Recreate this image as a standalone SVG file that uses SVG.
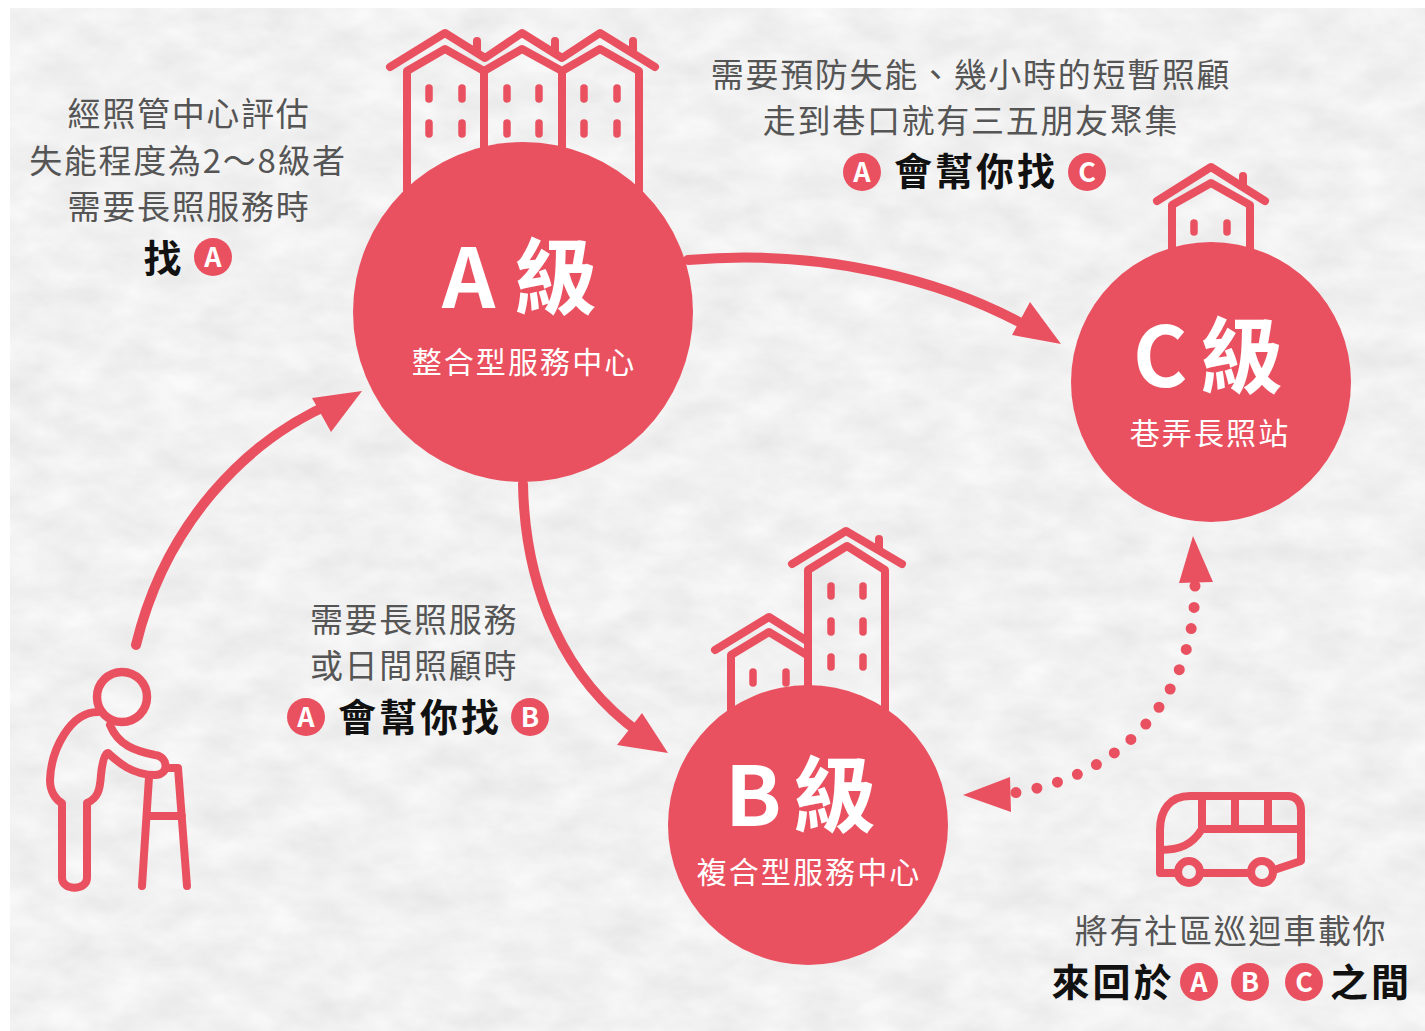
<svg xmlns="http://www.w3.org/2000/svg" width="1425" height="1031" viewBox="0 0 1425 1031">
<style>
text{font-family:"Noto Sans CJK TC","Noto Sans CJK SC",sans-serif}
.t{font-size:33px;letter-spacing:1.7px;fill:#555;text-anchor:middle}
.k{font-size:38px;letter-spacing:3px;font-weight:700;fill:#111;text-anchor:middle}
.b{font-size:27px;font-weight:700;fill:#fff;text-anchor:middle}
.h{font-size:83px;font-weight:700;fill:#fff}
.s{font-size:30px;letter-spacing:2.1px;fill:#fff;text-anchor:middle}
.r{fill:#ea5160}
.l{fill:none;stroke:#ea5160;stroke-width:8;stroke-linecap:round;stroke-linejoin:round}
.w{fill:none;stroke:#ea5160;stroke-width:7.5;stroke-linecap:round}
.a{fill:none;stroke:#ea5160;stroke-width:10;stroke-linecap:round}
</style>
<defs>
<filter id="paper" filterUnits="userSpaceOnUse" x="10" y="8" width="1415" height="1023" color-interpolation-filters="sRGB">
<feTurbulence type="fractalNoise" baseFrequency="0.02 0.035" numOctaves="4" seed="7"/>
<feColorMatrix type="matrix" values="0.09 0 0 0 0.9  0.09 0 0 0 0.9  0.09 0 0 0 0.9  0 0 0 0 1"/>
</filter>
</defs>
<rect width="1425" height="1031" fill="#fff"/>
<rect x="10" y="8" width="1415" height="1023" fill="#f1f1f1" filter="url(#paper)"/>

<g id="connectors">
<path class="a" d="M136 645C165 525 245 440 335 402"/>
<path class="r" d="M362 391L312 398L331 432Z"/>
<path class="a" d="M688 260C820 248 945 280 1030 328"/>
<path class="r" d="M1061 344L1012 335L1030 302Z"/>
<path class="a" d="M523 484C525 590 565 680 640 733"/>
<path class="r" d="M668 753L617 745L642 713Z"/>
<path d="M1195 586C1195 690 1130 775 1013 793" fill="none" stroke="#ea5160" stroke-width="11" stroke-linecap="round" stroke-dasharray="0 21.4"/>
<path class="r" d="M1193 536L1179 583L1213 582Z"/>
<path class="r" d="M963 795L1010 777L1011 812Z"/>
</g>

<g id="node-a">
<path class="l" d="M390 67L445 33L485 58L522 33L562 58L600 33L655 67"/>
<path class="l" d="M477 41V50M555 41V50M633 41V50"/>
<path class="l" d="M407 190V71L445 49L484 71L522 49L562 71L600 49L639 71V190M484 71V150M562 71V150"/>
<path class="w" d="M429 88V99M462 88V99M507 88V99M539 88V99M584 88V99M617 88V99M429 123V134M462 123V134M507 123V134M539 123V134M584 123V134M617 123V134"/>
<circle class="r" cx="523" cy="312" r="170"/>
<text class="h" x="442 514" y="308">A級</text>
<text class="s" x="524" y="373">整合型服務中心</text>
</g>

<g id="node-c">
<path class="l" d="M1157 201L1211 167L1265 201M1243 176V187"/>
<path class="l" d="M1172 255V205L1211 183L1250 205V255"/>
<path class="w" d="M1194 223V232M1227 223V232"/>
<circle class="r" cx="1211" cy="382" r="140"/>
<text class="h" x="1133 1200" y="387">C級</text>
<text class="s" x="1210" y="444">巷弄長照站</text>
</g>

<g id="node-b">
<path class="l" d="M792 564L846 531L902 564M879 539V550"/>
<path class="l" d="M808 690V570L847 546L885 570V712"/>
<path class="l" d="M715 650L769 617L807 641"/>
<path class="l" d="M731 712V655L769 632L807 655"/>
<path class="w" d="M831 586V596M863 586V596M831 621V632M863 621V632M831 657V667M863 657V667M753 672V683M786 672V683"/>
<circle class="r" cx="808" cy="825" r="140"/>
<text class="h" x="725 793" y="826">B級</text>
<text class="s" x="809" y="883">複合型服務中心</text>
</g>

<g id="node-person">
<circle cx="122" cy="697" r="25" fill="none" stroke="#ea5160" stroke-width="8.5"/>
<path class="l" d="M98 712C70 712 51 750 50 780C50 792 56 800 62 803V878C62 891 87 891 87 878V803C98 798 100 790 101 775C102 765 104 753 108 753C118 762 132 775 155 775C170 775 168 756 155 755C135 751 118 745 110 725"/>
<path class="l" d="M142 886L149 777M187 886L178 768H168M149 816H182"/>
</g>

<g id="node-bus">
<path class="l" d="M1177 873H1160V830C1160 810 1170 796 1190 796H1288C1296 796 1301 802 1301 810V861L1277 869M1202 873H1250M1202 796V829M1235 796V829M1268 796V829M1202 829H1301M1202 829C1192 845 1180 850 1160 850"/>
<circle cx="1189" cy="872" r="11" fill="none" stroke="#ea5160" stroke-width="8"/>
<circle cx="1262" cy="872" r="11" fill="none" stroke="#ea5160" stroke-width="8"/>
</g>

<g id="note-a">
<text class="t" x="189" y="126">經照管中心評估</text>
<text class="t" x="188" y="173">失能程度為2～8級者</text>
<text class="t" x="189" y="219">需要長照服務時</text>
<text class="k" x="164" y="272">找</text>
<circle class="r" cx="213" cy="257" r="19"/><text class="b" x="213" y="267">A</text>
</g>

<g id="note-c">
<text class="t" x="971" y="87">需要預防失能、幾小時的短暫照顧</text>
<text class="t" x="971" y="133">走到巷口就有三五朋友聚集</text>
<circle class="r" cx="862" cy="172" r="19"/><text class="b" x="862" y="182">A</text>
<text class="k" x="976" y="185">會幫你找</text>
<circle class="r" cx="1087" cy="172" r="19"/><text class="b" x="1087" y="182">C</text>
</g>

<g id="note-b">
<text class="t" x="414" y="632">需要長照服務</text>
<text class="t" x="414" y="678">或日間照顧時</text>
<circle class="r" cx="306" cy="717" r="19"/><text class="b" x="306" y="727">A</text>
<text class="k" x="420" y="731">會幫你找</text>
<circle class="r" cx="530" cy="717" r="19"/><text class="b" x="530" y="727">B</text>
</g>

<g id="note-bus">
<text class="t" x="1231" y="943">將有社區巡迴車載你</text>
<text class="k" x="1113" y="996">來回於</text>
<circle class="r" cx="1199" cy="982" r="19"/><text class="b" x="1199" y="992">A</text>
<circle class="r" cx="1250" cy="982" r="19"/><text class="b" x="1250" y="992">B</text>
<circle class="r" cx="1304" cy="982" r="19"/><text class="b" x="1304" y="992">C</text>
<text class="k" x="1371" y="996">之間</text>
</g>
</svg>
